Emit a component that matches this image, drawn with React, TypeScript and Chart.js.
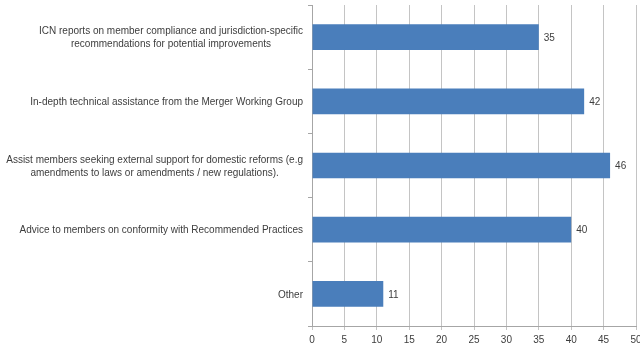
import React, { useEffect, useRef } from "react";
import { Chart, registerables } from "chart.js";

Chart.register(...registerables);

const categories: string[][] = [
  ["ICN reports on member compliance and jurisdiction-specific", "recommendations for potential improvements"],
  ["In-depth technical assistance from the Merger Working Group"],
  ["Assist members seeking external support for domestic reforms (e.g", "amendments to laws or amendments / new regulations)."],
  ["Advice to members on conformity with Recommended Practices"],
  ["Other"],
];
const values: number[] = [35, 42, 46, 40, 11];
const xTicks: number[] = [0, 5, 10, 15, 20, 25, 30, 35, 40, 45, 50];

const FONT = "'Liberation Sans', Arial, sans-serif";
const TEXT = "#3d3d3d";

const labelPlugin = {
  id: "customLabels",
  afterDraw(chart: any) {
    const ctx = chart.ctx;
    const yScale = chart.scales.y;
    const meta = chart.getDatasetMeta(0);
    ctx.save();
    ctx.fillStyle = TEXT;
    ctx.font = `10px ${FONT}`;
    ctx.textBaseline = "middle";
    ctx.textAlign = "center";
    const lh = 13;
    categories.forEach((lines, i) => {
      const y = yScale.getPixelForValue(i);
      const maxW = Math.max(...lines.map((l) => ctx.measureText(l).width));
      const right = 303;
      const cx = right - maxW / 2;
      const startY = y - ((lines.length - 1) * lh) / 2 + 1;
      lines.forEach((l, j) => ctx.fillText(l, cx, startY + j * lh));
    });
    ctx.font = `10px ${FONT}`;
    ctx.textAlign = "left";
    meta.data.forEach((bar: any, i: number) => {
      ctx.fillText(String(values[i]), bar.x + 5, bar.y + 1);
    });
    ctx.restore();
  },
};

export default function App() {
  const ref = useRef<HTMLCanvasElement | null>(null);
  useEffect(() => {
    if (!ref.current) return;
    const chart = new Chart(ref.current, {
      type: "bar",
      data: {
        labels: categories.map((c) => c.join(" ")),
        datasets: [
          {
            data: values,
            backgroundColor: "#4a7ebb",
            borderColor: "#3f70ad",
            borderWidth: 0,
            barPercentage: 0.4,
            categoryPercentage: 1,
          },
        ],
      },
      options: {
        indexAxis: "y",
        responsive: false,
        animation: false,
        events: [],
        layout: { padding: { left: 0, top: 5, right: 14, bottom: 0 } },
        plugins: { legend: { display: false }, tooltip: { enabled: false } },
        scales: {
          x: {
            min: 0,
            max: 50,
            afterBuildTicks: (scale: any) => {
              scale.ticks = xTicks.map((v) => ({ value: v }));
            },
            afterFit: (scale: any) => {
              scale.height = 21;
            },
            grid: { color: "#c4c4c4", lineWidth: 1, tickLength: 4, drawTicks: true },
            border: { color: "#a6a6a6" },
            ticks: { color: TEXT, font: { size: 10, family: FONT }, padding: 4, maxRotation: 0 },
          },
          y: {
            afterFit: (scale: any) => {
              scale.width = 312;
            },
            grid: { drawOnChartArea: false, drawTicks: true, tickLength: 4, color: "#a6a6a6", offset: true },
            border: { color: "#a6a6a6" },
            ticks: { display: false },
          },
        },
      },
      plugins: [labelPlugin],
    });
    return () => chart.destroy();
  }, []);
  return (
    <div style={{ position: "absolute", left: 0, top: 0, width: 640, height: 347, overflow: "hidden", background: "#fff" }}>
      <canvas ref={ref} width={650} height={347} style={{ width: 650, height: 347 }} />
    </div>
  );
}
